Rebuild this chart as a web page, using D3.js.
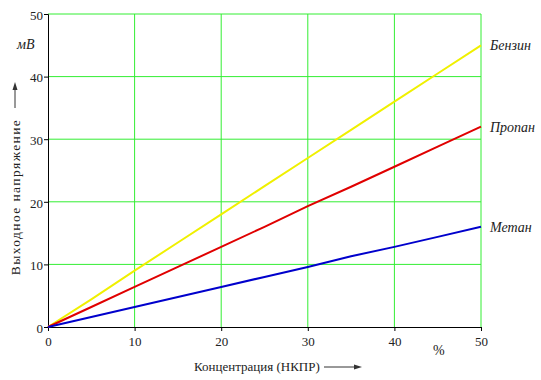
<!DOCTYPE html>
<html>
<head>
<meta charset="utf-8">
<script src="https://cdn.jsdelivr.net/npm/d3@7"></script>
<style>
  body { margin: 0; background: #fff; }
</style>
</head>
<body>
<script>
// concentration, % of LEL
var xValues = [0, 5, 10, 15, 20, 25, 30, 35, 40, 45, 50];
// output voltage, mV
var benzin = [0, 4.4, 9.0, 13.5, 18.0, 22.5, 27.0, 31.5, 36.0, 40.5, 45.0];
var propan = [0, 3.2, 6.4, 9.6, 12.8, 16.0, 19.3, 22.4, 25.6, 28.8, 32.0];
var metan = [0, 1.6, 3.2, 4.8, 6.4, 8.0, 9.6, 11.3, 12.8, 14.4, 16.0];
var xTicks = [0, 10, 20, 30, 40, 50];
var yTicks = [0, 10, 20, 30, 40, 50];
var seriesNames = ['Бензин', 'Пропан', 'Метан'];
var seriesColors = ['#f0f000', '#e00000', '#0000cc'];

var margin = {top: 14, right: 60, bottom: 53, left: 48};
var width = 541 - margin.left - margin.right;
var height = 380 - margin.top - margin.bottom;

var svg = d3.select('body').append('svg')
    .attr('width', 541)
    .attr('height', 380);

var g = svg.append('g')
    .attr('transform', 'translate(' + margin.left + ',' + margin.top + ')');

var xScale = d3.scaleLinear().domain([0, 50]).range([0, width]);
var yScale = d3.scaleLinear().domain([0, 50]).range([height, 0]);

//grid
g.selectAll('.vgrid').data(xTicks.slice(1)).enter().append('line')
    .attr('x1', function (d) { return xScale(d); })
    .attr('x2', function (d) { return xScale(d); })
    .attr('y1', 0).attr('y2', height)
    .attr('stroke', '#33ee33').attr('stroke-width', 1);

g.selectAll('.hgrid').data(yTicks.slice(1)).enter().append('line')
    .attr('x1', 0).attr('x2', width)
    .attr('y1', function (d) { return yScale(d); })
    .attr('y2', function (d) { return yScale(d); })
    .attr('stroke', '#33ee33').attr('stroke-width', 1);

//axes
var xAxis = g.append('g')
    .attr('transform', 'translate(0,' + height + ')')
    .call(d3.axisBottom(xScale).tickValues(xTicks).tickSizeOuter(0).tickSize(4).tickPadding(6));
var yAxis = g.append('g')
    .call(d3.axisLeft(yScale).tickValues(yTicks).tickSizeOuter(0).tickSize(4).tickPadding(1));

[xAxis, yAxis].forEach(function (a) {
    a.attr('font-size', 13);
    a.select('.domain').attr('stroke', '#000');
    a.selectAll('line').attr('stroke', '#000');
    a.selectAll('text').attr('fill', '#222');
});
yAxis.selectAll('text').attr('dy', '0.4em');

//lines
var seriesData = [benzin, propan, metan];
var line = d3.line()
    .x(function (d, i) { return xScale(xValues[i]); })
    .y(function (d) { return yScale(d); });

g.selectAll('.series').data(seriesData).enter().append('path')
    .attr('d', line)
    .attr('fill', 'none')
    .attr('stroke', function (d, i) { return seriesColors[i]; })
    .attr('stroke-width', 2);

//series labels
g.selectAll('.slabel').data(seriesData).enter().append('text')
    .attr('x', width + 9)
    .attr('y', function (d) { return yScale(d[d.length - 1]) + 5; })
    .attr('font-style', 'italic')
    .attr('font-size', 14)
    .attr('fill', '#222')
    .text(function (d, i) { return seriesNames[i]; });

//axis titles
svg.append('text')
    .attr('x', 17).attr('y', 49)
    .attr('font-style', 'italic')
    .attr('font-size', 14)
    .attr('fill', '#222')
    .text('мВ');

svg.append('text')
    .attr('transform', 'translate(20,197) rotate(-90)')
    .attr('text-anchor', 'middle')
    .attr('font-size', 13.5)
    .attr('letter-spacing', 1.4)
    .attr('fill', '#222')
    .text('Выходное напряжение');

svg.append('line')
    .attr('x1', 15).attr('x2', 15)
    .attr('y1', 108).attr('y2', 86)
    .attr('stroke', '#333').attr('stroke-width', 1);
svg.append('path')
    .attr('d', 'M15,82 L12.5,90 L17.5,90 Z')
    .attr('fill', '#333');

svg.append('text')
    .attr('x', 194).attr('y', 371)
    .attr('font-size', 13)
    .attr('fill', '#222')
    .text('Концентрация (НКПР)');

svg.append('line')
    .attr('x1', 324).attr('x2', 356)
    .attr('y1', 367).attr('y2', 367)
    .attr('stroke', '#333').attr('stroke-width', 1);
svg.append('path')
    .attr('d', 'M362,367 L354,364.5 L354,369.5 Z')
    .attr('fill', '#333');

svg.append('text')
    .attr('x', 433).attr('y', 355)
    .attr('font-size', 14)
    .attr('fill', '#222')
    .text('%');

// serif font on every text
svg.selectAll('text').attr('font-family', 'Liberation Serif');
</script>
</body>
</html>
